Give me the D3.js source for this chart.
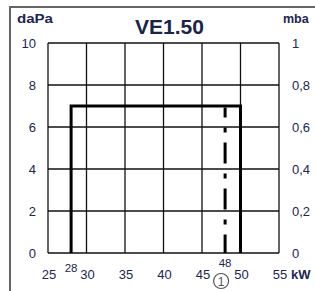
<!DOCTYPE html>
<html><head><meta charset="utf-8">
<script src="https://cdn.jsdelivr.net/npm/d3@7"></script>
<style>html,body{margin:0;padding:0;background:#fff;}svg{display:block;}</style>
</head><body>
<script>
const title = "VE1.50";
const xTicks = [25, 30, 35, 40, 45, 50, 55];
const yTicks = [0, 2, 4, 6, 8, 10];
const yTicksRight = [0, 0.2, 0.4, 0.6, 0.8, 1];
const rangeKW = [28, 50];        // working range (kW)
const rangeLabels = [28];        // marked limit labels
const pressure = 7;              // daPa, top of working range
const markerKW = [48];           // dash-dot marker
const markerNote = "1";

const W = 315, H = 291;
const x = d3.scaleLinear().domain([25, 55]).range([48, 279]);
const y = d3.scaleLinear().domain([0, 10]).range([253, 43]);
const yR = d3.scaleLinear().domain([0, 1]).range([253, 43]);
const txt = "#1c2650";
const font = "Liberation Sans, Arial, sans-serif";

const svg = d3.select("body").append("svg").attr("width", W).attr("height", H);

// outer frame
svg.append("path").attr("d", `M10,${H} L10,7 L${W},7`)
  .attr("fill", "none").attr("stroke", "#666").attr("stroke-width", 2);

// grid
const g = svg.append("g");
g.selectAll("line.v").data(xTicks).join("line")
  .attr("x1", d => x(d)).attr("x2", d => x(d)).attr("y1", y(0)).attr("y2", y(10))
  .attr("stroke", "#111").attr("stroke-width", 1.3);
g.selectAll("line.h").data(yTicks).join("line")
  .attr("x1", x(25)).attr("x2", x(55)).attr("y1", d => y(d)).attr("y2", d => y(d))
  .attr("stroke", "#111").attr("stroke-width", 1.3);

// working range
const line = d3.line().x(d => x(d[0])).y(d => y(d[1]));
svg.append("path")
  .attr("d", line([[rangeKW[0], 0], [rangeKW[0], pressure], [rangeKW[1], pressure], [rangeKW[1], 0]]))
  .attr("fill", "none").attr("stroke", "#000").attr("stroke-width", 3).attr("stroke-linejoin", "miter");

// marker dash-dot
svg.selectAll("line.m").data(markerKW).join("line")
  .attr("x1", d => x(d)).attr("x2", d => x(d))
  .attr("y1", y(pressure) + 1.5).attr("y2", y(0))
  .attr("stroke", "#000").attr("stroke-width", 3)
  .attr("stroke-dasharray", "21,10,5,10").attr("stroke-dashoffset", 11);

// left axis labels
svg.selectAll("text.yl").data(yTicks).join("text")
  .attr("x", 36).attr("y", d => y(d)).attr("dy", "0.36em")
  .attr("text-anchor", "end").attr("font-family", font)
  .attr("font-size", 13).attr("fill", txt).text(d => d);

// right axis labels
svg.selectAll("text.yr").data(yTicksRight).join("text")
  .attr("x", 292).attr("y", d => yR(d)).attr("dy", "0.36em")
  .attr("text-anchor", "start").attr("font-family", font)
  .attr("font-size", 13).attr("fill", txt).text(d => String(d).replace(".", ","));

// bottom axis labels
svg.selectAll("text.xl").data(xTicks).join("text")
  .attr("x", d => x(d) + 1).attr("y", 279)
  .attr("text-anchor", "middle").attr("font-family", font)
  .attr("font-size", 13).attr("fill", txt).text(d => d);

svg.append("text").attr("x", 291).attr("y", 279)
  .attr("font-family", font).attr("font-weight", "bold")
  .attr("font-size", 13).attr("fill", txt).text("kW");

// range limit labels
svg.selectAll("text.rl").data(rangeLabels).join("text")
  .attr("x", d => x(d)).attr("y", 272).attr("text-anchor", "middle")
  .attr("font-family", font)
  .attr("font-size", 11.5).attr("fill", txt).text(d => d);
svg.selectAll("text.ml").data(markerKW).join("text")
  .attr("x", d => x(d)).attr("y", 267).attr("text-anchor", "middle")
  .attr("font-family", font)
  .attr("font-size", 11.5).attr("fill", txt).text(d => d);

// circled note
const note = svg.append("g").attr("transform", `translate(${x(markerKW[0]) - 4},281)`);
note.append("circle").attr("r", 7.5).attr("fill", "#fff").attr("stroke", "#555").attr("stroke-width", 1.2);
note.append("text").attr("y", 4.5).attr("text-anchor", "middle")
  .attr("font-family", font).attr("font-size", 12)
  .attr("fill", "#555").text(markerNote);

// units and title
svg.append("text").attr("x", 17).attr("y", 23).attr("textLength", 36).attr("lengthAdjust", "spacingAndGlyphs")
  .attr("font-family", font).attr("font-weight", "bold")
  .attr("font-size", 12.5).attr("fill", txt).text("daPa");
svg.append("text").attr("x", 283).attr("y", 23)
  .attr("font-family", font).attr("font-weight", "bold")
  .attr("font-size", 12.5).attr("fill", txt).text("mba");
svg.append("text").attr("x", 169.5).attr("y", 34).attr("text-anchor", "middle")
  .attr("textLength", 69).attr("lengthAdjust", "spacingAndGlyphs")
  .attr("font-family", font).attr("font-weight", "bold")
  .attr("font-size", 19.5).attr("fill", "#1a2448").text(title);
</script>
</body></html>
